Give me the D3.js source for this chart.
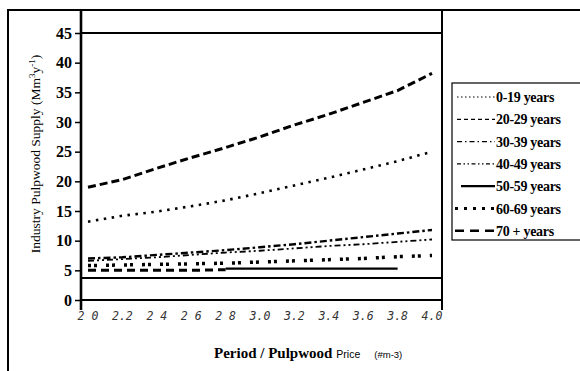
<!DOCTYPE html>
<html>
<head>
<meta charset="utf-8">
<script src="https://cdn.jsdelivr.net/npm/d3@7"></script>
<style>
  html, body { margin: 0; padding: 0; background: #fff; }
  svg { display: block; }
</style>
</head>
<body>
<svg id="chart" width="580" height="371"></svg>
<script>
// Price steps along the x axis and their printed labels
const prices = [2.0, 2.2, 2.4, 2.6, 2.8, 3.0, 3.2, 3.4, 3.6, 3.8, 4.0];
const priceLabels = ["2 0", "2.2", "2 4", "2 6", "2 8", "3.0", "3.2", "3.4", "3.6", "3.8", "4.0"];
const yTicks = [0, 5, 10, 15, 20, 25, 30, 35, 40, 45];

// Age classes (legend order)
const ageClasses = ["0-19 years", "20-29 years", "30-39 years", "40-49 years", "50-59 years", "60-69 years", "70 + years"];

// Supply (Mm3/y) per age class at each price step; null = not supplied
const supply0to19  = [13.2, 14.2, 14.9, 15.8, 16.8, 18.0, 19.3, 20.6, 22.0, 23.4, 25.0];
const supply20to29 = [5.0, 5.0, 5.0, 5.0, 5.1, null, null, null, null, null, null];
const supply30to39 = [7.0, 7.2, 7.6, 8.0, 8.4, 8.9, 9.4, 10.0, 10.6, 11.2, 11.8];
const supply40to49 = [6.6, 6.9, 7.2, 7.6, 8.0, 8.3, 8.7, 9.1, 9.4, 9.8, 10.2];
const supply50to59 = [null, null, null, null, 5.3, 5.3, 5.3, 5.3, 5.3, 5.3, null];
const supply60to69 = [5.8, 5.9, 6.0, 6.1, 6.2, 6.4, 6.6, 6.8, 7.0, 7.3, 7.5];
const supply70plus = [19.0, 20.3, 22.2, 24.0, 25.7, 27.5, 29.5, 31.3, 33.3, 35.3, 38.2];

// Horizontal reference rule across the plot
const referenceLevel = 3.7;

const seriesValues = [supply0to19, supply20to29, supply30to39, supply40to49, supply50to59, supply60to69, supply70plus];

// Stroke styles: plot line and legend sample
const plotStyles = [
  { w: 2.6, dash: "2.5,5.5" },
  { w: 3, dash: "8,5" },
  { w: 2.4, dash: "7,3,2.5,3" },
  { w: 1.8, dash: "6,3,2,3,2,3" },
  { w: 2.2, dash: null },
  { w: 3.5, dash: "3,3,3,9" },
  { w: 3, dash: "8,4" }
];
const legendStyles = [
  { w: 1.2, dash: "1.5,2.5", x0: 457 },
  { w: 1.2, dash: "4,3", x0: 457 },
  { w: 1.2, dash: "5,3,1.5,3", x0: 457 },
  { w: 1.2, dash: "4,2.5,1.5,2.5,1.5,2.5", x0: 457 },
  { w: 2.2, dash: null, x0: 461 },
  { w: 3, dash: "3,6", x0: 455 },
  { w: 2.5, dash: "9,6", x0: 455 }
];

const svg = d3.select("#chart");
const x = d3.scaleLinear().domain([2.0, 4.0]).range([88, 432]);
const y = d3.scaleLinear().domain([0, 45]).range([300, 33]);

const plotLeft = 81, plotRight = 442, plotTop = 10, plotBottom = 310;

// Outer frame
svg.append("rect")
  .attr("x", 8).attr("y", 10).attr("width", 600).attr("height", 400)
  .attr("fill", "none").attr("stroke", "#000").attr("stroke-width", 2);

// Plot frame: left axis and right border
svg.append("line")
  .attr("x1", plotLeft).attr("x2", plotLeft).attr("y1", plotTop).attr("y2", plotBottom)
  .attr("stroke", "#000").attr("stroke-width", 2.6);
svg.append("line")
  .attr("x1", plotRight).attr("x2", plotRight).attr("y1", plotTop).attr("y2", plotBottom)
  .attr("stroke", "#000").attr("stroke-width", 2);

// Top (45) and bottom (0) rules plus the reference rule
[45, 0, referenceLevel].forEach(v => {
  svg.append("line")
    .attr("x1", plotLeft).attr("x2", plotRight)
    .attr("y1", y(v)).attr("y2", y(v))
    .attr("stroke", "#000").attr("stroke-width", 2);
});

// Y axis ticks and labels
const yAxis = d3.axisLeft(y).tickValues(yTicks).tickSize(6).tickPadding(3).tickFormat(d3.format("d"));
const yg = svg.append("g").attr("transform", `translate(${plotLeft},0)`).call(yAxis);
yg.select(".domain").remove();
yg.selectAll(".tick line").attr("stroke", "#000").attr("stroke-width", 1.5);
yg.selectAll(".tick text")
  .attr("fill", "#000")
  .style("font-family", "'Liberation Serif', 'Times New Roman', serif")
  .style("font-weight", "bold")
  .style("font-size", "16px");
// extra tick stubs to the right at 45 and 0
[45, 0].forEach(v => {
  svg.append("line")
    .attr("x1", plotLeft).attr("x2", plotLeft + 9)
    .attr("y1", y(v)).attr("y2", y(v))
    .attr("stroke", "#000").attr("stroke-width", 1.5);
});

// X tick labels
svg.append("g").selectAll("text")
  .data(prices)
  .join("text")
  .attr("x", d => x(d))
  .attr("y", 320)
  .attr("text-anchor", "middle")
  .attr("fill", "#333")
  .style("font-family", "'DejaVu Sans Mono', monospace")
  .style("font-style", "italic")
  .style("font-size", "11.5px")
  .text((d, i) => priceLabels[i]);

// Series lines
const line = d3.line()
  .defined(d => d.v !== null)
  .x(d => x(d.p))
  .y(d => y(d.v));

seriesValues.forEach((vals, i) => {
  const pts = prices.map((p, j) => ({ p, v: vals[j] }));
  const st = plotStyles[i];
  svg.append("path")
    .datum(pts)
    .attr("d", line)
    .attr("fill", "none")
    .attr("stroke", "#000")
    .attr("stroke-width", st.w)
    .attr("stroke-dasharray", st.dash)
    .attr("stroke-linecap", "butt");
});

// Legend
const legendTop = 83, legendLeft = 452, rowH = 22.3;
svg.append("rect")
  .attr("x", legendLeft).attr("y", legendTop)
  .attr("width", 140).attr("height", 157)
  .attr("fill", "#fff").attr("stroke", "#000").attr("stroke-width", 1.2);

const lg = svg.append("g");
ageClasses.forEach((name, i) => {
  const cy = legendTop + 14 + i * rowH;
  const st = legendStyles[i];
  lg.append("line")
    .attr("x1", st.x0).attr("x2", 495)
    .attr("y1", cy).attr("y2", cy)
    .attr("stroke", "#000")
    .attr("stroke-width", st.w)
    .attr("stroke-dasharray", st.dash);
  lg.append("text")
    .attr("x", 496)
    .attr("y", cy + 5)
    .attr("fill", "#000")
    .style("font-family", "'Liberation Serif', 'Times New Roman', serif")
    .style("font-weight", "bold")
    .style("font-size", "14px")
    .style("letter-spacing", "-0.3px")
    .text(name);
});

// Y axis title
const yTitle = svg.append("text")
  .attr("transform", "translate(40,154) rotate(-90)")
  .attr("text-anchor", "middle")
  .attr("fill", "#000")
  .style("font-family", "'Liberation Serif', 'Times New Roman', serif")
  .style("font-size", "13.5px");
yTitle.append("tspan").text("Industry Pulpwood Supply (Mm");
yTitle.append("tspan").attr("dy", -5).style("font-size", "9px").text("3");
yTitle.append("tspan").attr("dy", 5).text("y");
yTitle.append("tspan").attr("dy", -5).style("font-size", "9px").text("-1");
yTitle.append("tspan").attr("dy", 5).text(")");

// X axis title
const xTitle = svg.append("text")
  .attr("x", 214)
  .attr("y", 358)
  .attr("fill", "#000");
xTitle.append("tspan")
  .style("font-family", "'Liberation Serif', 'Times New Roman', serif")
  .style("font-weight", "bold")
  .style("font-size", "15px")
  .text("Period / Pulpwood");
xTitle.append("tspan")
  .attr("dx", 4)
  .style("font-family", "'Liberation Sans', Arial, sans-serif")
  .style("font-size", "10.5px")
  .text("Price");
xTitle.append("tspan")
  .attr("dx", 14)
  .style("font-family", "'Liberation Sans', Arial, sans-serif")
  .style("font-size", "9.5px")
  .text("(#m-3)");
</script>
</body>
</html>
